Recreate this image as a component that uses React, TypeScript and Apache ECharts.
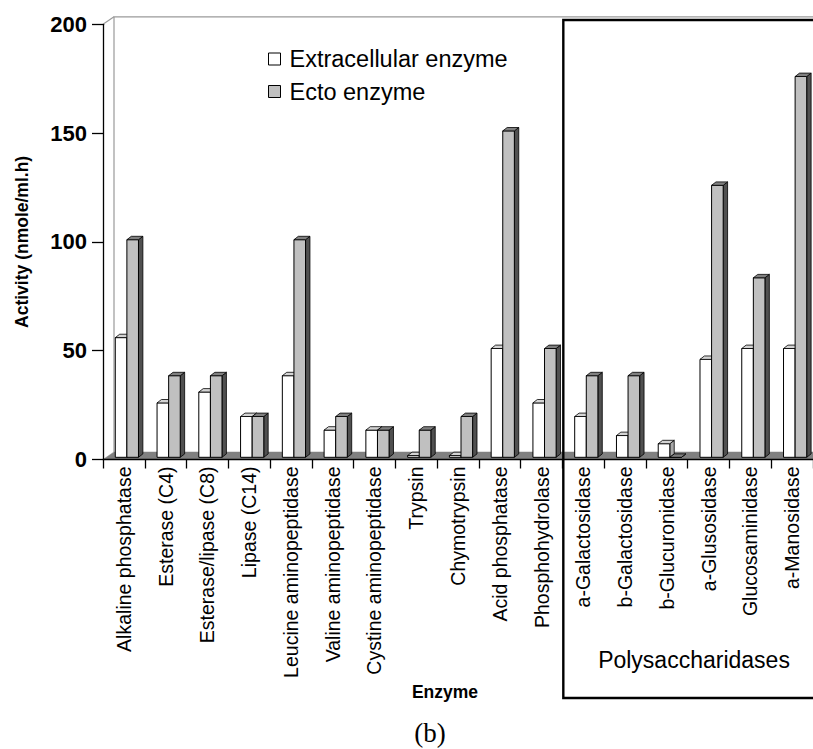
import React, { useEffect, useRef } from "react";
import * as echarts from "echarts";

const categories = [
  "Alkaline phosphatase",
  "Esterase (C4)",
  "Esterase/lipase (C8)",
  "Lipase (C14)",
  "Leucine aminopeptidase",
  "Valine aminopeptidase",
  "Cystine aminopeptidase",
  "Trypsin",
  "Chymotrypsin",
  "Acid phosphatase",
  "Phosphohydrolase",
  "a-Galactosidase",
  "b-Galactosidase",
  "b-Glucuronidase",
  "a-Glusosidase",
  "Glucosaminidase",
  "a-Manosidase",
];
const extracellular = [55, 25, 30, 18.75, 37.5, 12.5, 12.5, 0.8, 0.8, 50, 25, 18.75, 10, 6.25, 45, 50, 50];
const ecto = [100, 37.5, 37.5, 18.75, 100, 18.75, 12.5, 12.5, 18.75, 150, 50, 37.5, 37.5, 0, 125, 82.5, 175];
const seriesNames = ["Extracellular enzyme", "Ecto enzyme"];
const yTicks = { min: 0, max: 200, interval: 50 };

const W = 813;
const H = 749;
const GRID_LEFT = 103;
const GRID_TOP = 24.3;
const GRID_H = 435.2;
const GRID_W = 711.4;
const DEPTH_X = 11;
const DEPTH_Y = 7.5;
const BAR_W = 11.6;
const BAR_DX = 4.4;
const BAR_DY = 3.4;
const BASE_SHIFT = -2.2;
const FONT = "'Liberation Sans', Arial, sans-serif";

const faces = [
  { front: "#ffffff", top: "#d4d4d4", side: "#a8a8a8", offset: -8.6 },
  { front: "#c0c0c0", top: "#808080", side: "#505050", offset: 3.0 },
];

function makeRender(k: number) {
  const f = faces[k];
  return (params: any, api: any) => {
    const i = api.value(0);
    const v = api.value(1);
    const base = api.coord([i, 0]);
    const top = api.coord([i, v]);
    const yb = base[1] + BASE_SHIFT;
    const yt = top[1] + BASE_SHIFT;
    const x0 = base[0] + f.offset;
    const x1 = x0 + BAR_W;
    return {
      type: "group",
      children: [
        {
          type: "polygon",
          shape: { points: [[x1, yb], [x1 + BAR_DX, yb - BAR_DY], [x1 + BAR_DX, yt - BAR_DY], [x1, yt]] },
          style: { fill: f.side, stroke: "#000", lineWidth: 0.8 },
        },
        {
          type: "rect",
          shape: { x: x0, y: yt, width: BAR_W, height: Math.max(0, yb - yt) },
          style: { fill: f.front, stroke: "#000", lineWidth: 1 },
        },
        {
          type: "polygon",
          shape: { points: [[x0, yt], [x1, yt], [x1 + BAR_DX, yt - BAR_DY], [x0 + BAR_DX, yt - BAR_DY]] },
          style: { fill: f.top, stroke: "#000", lineWidth: 0.8 },
        },
      ],
    };
  };
}

export default function App() {
  const ref = useRef<HTMLDivElement>(null);
  useEffect(() => {
    if (!ref.current) return;
    const chart = echarts.init(ref.current, null, { renderer: "svg", width: W, height: H });
    const yBottom = GRID_TOP + GRID_H;
    const catW = GRID_W / categories.length;
    const boxLeft = GRID_LEFT + 11 * catW;
    const option: any = {
      animation: false,
      backgroundColor: "#ffffff",
      textStyle: { fontFamily: FONT },
      grid: { left: GRID_LEFT, top: GRID_TOP, width: GRID_W, height: GRID_H, containLabel: false },
      legend: {
        orient: "vertical",
        left: 263,
        top: 42,
        itemWidth: 12,
        itemHeight: 12,
        itemGap: 8.5,
        textStyle: { fontSize: 23.5, lineHeight: 23, color: "#000", fontFamily: FONT, padding: [0, 0, 0, 4] },
        data: [
          { name: seriesNames[0], icon: "rect", itemStyle: { color: "#ffffff", borderColor: "#000", borderWidth: 1 } },
          { name: seriesNames[1], icon: "rect", itemStyle: { color: "#c0c0c0", borderColor: "#000", borderWidth: 1 } },
        ],
      },
      xAxis: {
        type: "category",
        data: categories,
        boundaryGap: true,
        axisLine: { lineStyle: { color: "#000", width: 1.3 } },
        axisTick: { show: true, interval: 0, length: 9, lineStyle: { color: "#000", width: 1.3 } },
        axisLabel: { interval: 0, rotate: 90, fontSize: 19.5, color: "#000", margin: 7, fontFamily: FONT },
        splitLine: { show: false },
      },
      yAxis: {
        type: "value",
        min: yTicks.min,
        max: yTicks.max,
        interval: yTicks.interval,
        name: "Activity (nmole/ml.h)",
        nameLocation: "middle",
        nameGap: 72,
        nameTextStyle: { fontSize: 17.5, fontWeight: "bold", color: "#000", fontFamily: FONT },
        axisLine: { show: true, lineStyle: { color: "#000", width: 1.3 } },
        axisTick: { show: true, length: 11, lineStyle: { color: "#000", width: 1.3 } },
        axisLabel: { fontSize: 22, fontWeight: "bold", color: "#000", margin: 16, fontFamily: FONT },
        splitLine: { show: false },
      },
      graphic: [
        {
          type: "polygon",
          z: 0,
          silent: true,
          shape: {
            points: [
              [GRID_LEFT, yBottom],
              [GRID_LEFT + DEPTH_X, yBottom - DEPTH_Y],
              [GRID_LEFT + GRID_W + DEPTH_X, yBottom - DEPTH_Y],
              [GRID_LEFT + GRID_W, yBottom],
            ],
          },
          style: { fill: "#808080", stroke: "#808080", lineWidth: 0.5 },
        },
        {
          type: "polyline",
          z: 0,
          silent: true,
          shape: {
            points: [
              [GRID_LEFT + DEPTH_X, yBottom - DEPTH_Y],
              [GRID_LEFT + DEPTH_X, GRID_TOP - DEPTH_Y],
              [GRID_LEFT + GRID_W + DEPTH_X, GRID_TOP - DEPTH_Y],
            ],
          },
          style: { fill: null, stroke: "#9a9a9a", lineWidth: 1.2 },
        },
        {
          type: "line",
          z: 0,
          silent: true,
          shape: { x1: GRID_LEFT, y1: GRID_TOP, x2: GRID_LEFT + DEPTH_X, y2: GRID_TOP - DEPTH_Y },
          style: { stroke: "#9a9a9a", lineWidth: 1.2 },
        },
        {
          type: "rect",
          z: 10,
          silent: true,
          shape: { x: boxLeft, y: 20, width: 600, height: 678 },
          style: { fill: null, stroke: "#000", lineWidth: 2.4 },
        },
        {
          type: "text",
          z: 10,
          x: 694,
          y: 660,
          style: { text: "Polysaccharidases", fontSize: 23, fontFamily: FONT, fill: "#000", align: "center", verticalAlign: "middle" },
        },
        {
          type: "text",
          z: 10,
          x: 445,
          y: 692,
          style: { text: "Enzyme", fontSize: 17.5, fontWeight: "bold", fontFamily: FONT, fill: "#000", align: "center", verticalAlign: "middle" },
        },
        {
          type: "text",
          z: 10,
          x: 430,
          y: 733,
          style: { text: "(b)", fontSize: 27, fontFamily: "'Liberation Serif', 'Times New Roman', serif", fill: "#000", align: "center", verticalAlign: "middle" },
        },
      ],
      series: [
        {
          name: seriesNames[0],
          type: "custom",
          renderItem: makeRender(0),
          clip: false,
          z: 3,
          itemStyle: { color: "#ffffff", borderColor: "#000" },
          encode: { x: 0, y: 1 },
          data: extracellular.map((v, i) => [i, v]),
        },
        {
          name: seriesNames[1],
          type: "custom",
          renderItem: makeRender(1),
          clip: false,
          z: 4,
          itemStyle: { color: "#c0c0c0", borderColor: "#000" },
          encode: { x: 0, y: 1 },
          data: ecto.map((v, i) => [i, v]),
        },
      ],
    };
    chart.setOption(option);
    return () => chart.dispose();
  }, []);
  return (
    <div
      ref={ref}
      style={{ position: "fixed", left: 0, top: 0, width: W + "px", height: H + "px", background: "#fff" }}
    />
  );
}
